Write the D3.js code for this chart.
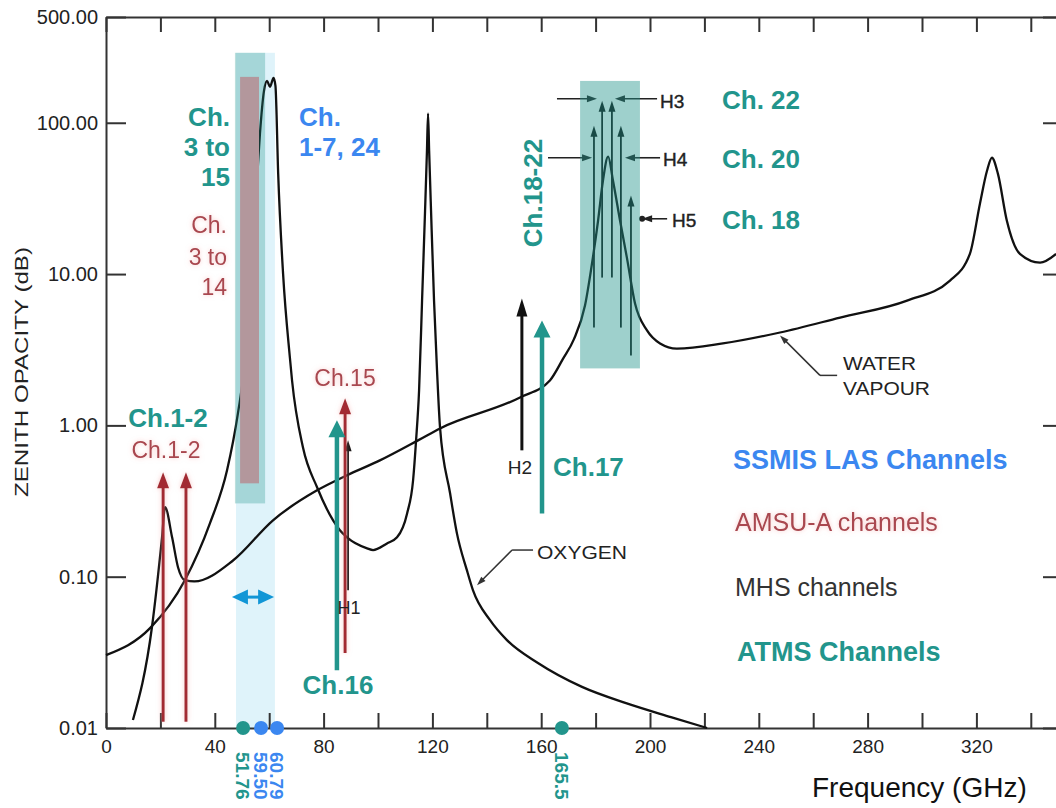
<!DOCTYPE html>
<html>
<head>
<meta charset="utf-8">
<script src="https://cdn.jsdelivr.net/npm/d3@7"></script>
<style>
body { margin: 0; background: #fff; }
svg { display: block; font-family: "Liberation Sans", Arial, sans-serif; }
.axis path, .axis line { stroke: #333; stroke-width: 2; }
.axis text { fill: #222; font-family: "Liberation Sans", Arial, sans-serif; }
</style>
</head>
<body>
<svg id="chart" width="1056" height="808"></svg>
<script>
"use strict";

// zenith opacity curves, frequency in GHz, opacity in dB
var oxygenGhz = [0, 16.2, 29.0, 38.2, 44.5, 48.5, 51.1, 53.7, 55.5, 56.6, 58.1, 59.2, 60.3, 61.6, 62.3, 63.3, 65.1, 67.6, 68.4, 72.4,
    77.6, 86.0, 88.6, 96.0, 98.2, 103.3, 107.0, 110.7, 112.9, 114.0, 115.1, 116.2, 117.3, 118.0, 118.4, 118.8, 119.5, 120.6, 121.7, 122.8,
    126.5, 129.0, 132.7, 134.9, 141.2, 147.4, 158.8, 175.0, 191.2, 207.7, 221.0];
var oxygenDb = [0.0303, 0.0457, 0.0948, 0.225, 0.505, 1.20, 2.69, 14.3, 41.4, 84.6, 163, 189, 173, 198, 175, 46.1, 10.07, 2.81, 1.98, 0.716,
    0.390, 0.203, 0.182, 0.154, 0.150, 0.166, 0.182, 0.262, 0.434, 0.796, 1.70, 6.68, 26.2, 65.3, 115, 65.3, 26.2, 6.68, 2.31, 0.970,
    0.356, 0.194, 0.110, 0.0815, 0.0516, 0.0381, 0.0269, 0.0187, 0.0146, 0.0118, 0.0100];

var waterGhz = [9.9, 16.9, 20.6, 21.7, 24.3, 26.5, 29.0, 32.5, 46.7, 61.4, 77.6, 88.6, 100.7, 114.7, 122.8, 152.2, 163.2, 168.0, 172.0, 176.1,
    179.0, 180.9, 182.7, 184.6, 186.4, 189.0, 191.5, 194.5, 198.9, 203.7, 209.9, 226.8, 247.8, 269.9, 294.5, 310.3, 317.6, 321.3, 323.9, 325.7,
    327.9, 331.2, 336.0, 343.4, 349.3];
var waterDb = [0.0113, 0.0465, 0.182, 0.288, 0.182, 0.115, 0.0948, 0.093, 0.128, 0.236, 0.372, 0.468, 0.587, 0.796, 0.955, 1.53, 1.98, 2.75, 3.7, 6.2,
    12.85, 22.5, 41.4, 59.7, 41.4, 22.5, 12.85, 6.38, 4.24, 3.48, 3.22, 3.48, 4.11, 5.16, 6.68, 9.06, 13.6, 29.2, 48.2, 58.7,
    46.1, 22.5, 13.6, 11.9, 13.6];

// axes
var xTickValues = d3.range(0, 341, 20);
var xTickLabels = ["0", "", "40", "", "80", "", "120", "", "160", "", "200", "", "240", "", "280", "", "320", ""];
var yTickValues = [0.01, 0.1, 1, 10, 100, 500];
var yTickLabels = ["0.01", "0.10", "1.00", "10.00", "100.00", "500.00"];

// channel arrows: position (GHz), foot and tip (dB)
var amsuGhz = [21.0, 29.4, 87.9];
var amsuFootDb = [0.011, 0.011, 0.0313];
var amsuTipDb = [0.49, 0.49, 1.51];

var atmsGhz = [84.9, 160.3];
var atmsFootDb = [0.0241, 0.262];
var atmsTipDb = [1.08, 4.93];

var mhsGhz = [89.0, 152.9, 182.4, 186.0, 179.4, 189.3, 193.0];
var mhsFootDb = [0.0815, 0.684, 9.48, 9.48, 4.43, 4.43, 2.90];
var mhsTipDb = [0.796, 6.89, 140, 140, 95.5, 95.5, 33.0];

// horizontal pointers next to H3, H4, H5
var pointerFromGhz = [165.8, 202.6, 162.5, 203.7, 206.3];
var pointerToGhz = [180.5, 187.1, 178.7, 190.8, 197.1];
var pointerDb = [144, 144, 58.7, 58.7, 23.2];

// shaded bands [GHz lo, GHz hi, dB lo, dB hi]
var ssmisBand = [47.8, 62.1, 0.01, 290];
var atmsBand = [47.4, 58.5, 0.305, 290];
var amsuBar = [49.3, 56.25, 0.414, 201];
var mhsBox = [174.3, 196.3, 2.38, 189];
var ssmisSpan = [46.3, 61.8, 0.0733];

// frequency markers on the axis
var dotGhz = [50.4, 57.0, 62.9, 167.6];
var dotLabels = ["51.76", "59.50", "60.79", "165.5"];
var dotSensor = ["atms", "ssmis", "ssmis", "atms"];

// leader lines of the curve names
var oxygenLeaderGhz = [157.0, 149.3, 136.4];
var oxygenLeaderDb = [0.150, 0.150, 0.0879];
var waterLeaderGhz = [268.8, 262.5, 247.8];
var waterLeaderDb = [2.14, 2.14, 3.93];

var TEAL = "#22958c", BLUE = "#3b87f0", RED = "#a22c33", RED_TEXT = "#a9474f", INK = "#111";
var colorOf = { atms: TEAL, ssmis: BLUE };

var svg = d3.select("#chart");
var x = d3.scaleLinear().domain([0, 350]).range([106, 1058]);
var y = d3.scaleLog().domain([0.01, 500]).range([728, 17]);

var defs = svg.append("defs");
var glow = defs.append("filter").attr("id", "redGlow")
    .attr("filterUnits", "userSpaceOnUse")
    .attr("x", 0).attr("y", 0).attr("width", 1056).attr("height", 808);
glow.append("feGaussianBlur").attr("in", "SourceAlpha").attr("stdDeviation", 2.5).attr("result", "blur");
glow.append("feFlood").attr("flood-color", "#f29a9a").attr("flood-opacity", 0.55).attr("result", "col");
glow.append("feComposite").attr("in", "col").attr("in2", "blur").attr("operator", "in").attr("result", "halo");
var merge = glow.append("feMerge");
merge.append("feMergeNode").attr("in", "halo");
merge.append("feMergeNode").attr("in", "SourceGraphic");

function bandRect(g, band, fill, opacity) {
    g.append("rect")
        .attr("x", x(band[0]))
        .attr("y", y(band[3]))
        .attr("width", x(band[1]) - x(band[0]))
        .attr("height", y(band[2]) - y(band[3]))
        .attr("fill", fill)
        .attr("fill-opacity", opacity);
};

function drawArrow(g, x1, y1, x2, y2, color, lw, hw, hl) {
    var dx = x2 - x1, dy = y2 - y1;
    var len = Math.sqrt(dx * dx + dy * dy);
    var ux = dx / len, uy = dy / len;
    var bx = x2 - ux * hl, by = y2 - uy * hl;
    g.append("line")
        .attr("x1", x1).attr("y1", y1)
        .attr("x2", bx + ux * 2).attr("y2", by + uy * 2)
        .attr("stroke", color)
        .attr("stroke-width", lw);
    g.append("path")
        .attr("d", "M" + x2 + "," + y2 +
            "L" + (bx - uy * hw / 2) + "," + (by + ux * hw / 2) +
            "L" + (bx + uy * hw / 2) + "," + (by - ux * hw / 2) + "Z")
        .attr("fill", color);
};

function label(g, txt, px, py, size, color, anchor, weight) {
    return g.append("text")
        .attr("x", px)
        .attr("y", py)
        .attr("dy", "0.35em")
        .attr("font-size", size)
        .attr("font-weight", weight || "normal")
        .attr("text-anchor", anchor || "start")
        .attr("fill", color)
        .text(txt);
};

// light SSMIS band sits under everything
bandRect(svg, ssmisBand, "#dff3fa", 1);

// axes
var xAxis = d3.axisBottom(x)
    .tickValues(xTickValues)
    .tickSize(-15)
    .tickSizeOuter(0)
    .tickPadding(12)
    .tickFormat(function(d, i) { return xTickLabels[i]; });
svg.append("g").attr("class", "axis")
    .attr("transform", "translate(0,728)")
    .call(xAxis)
    .attr("font-size", 19);

svg.append("g").attr("class", "axis")
    .attr("transform", "translate(0,17)")
    .call(d3.axisTop(x).tickValues(xTickValues).tickSize(-15).tickSizeOuter(0).tickFormat(""));

var yAxis = d3.axisLeft(y)
    .tickValues(yTickValues)
    .tickSize(-20)
    .tickSizeOuter(0)
    .tickPadding(8)
    .tickFormat(function(d, i) { return yTickLabels[i]; });
svg.append("g").attr("class", "axis")
    .attr("transform", "translate(106,0)")
    .call(yAxis)
    .attr("font-size", 20);

svg.append("g").attr("class", "axis")
    .attr("transform", "translate(1057,0)")
    .call(d3.axisRight(y).tickValues(yTickValues).tickSize(-14).tickSizeOuter(0).tickFormat(""));

// curves
var curve = d3.line()
    .curve(d3.curveMonotoneX)
    .x(function(d) { return x(d[0]); })
    .y(function(d) { return y(d[1]); });

svg.append("path")
    .datum(d3.zip(oxygenGhz, oxygenDb))
    .attr("d", curve)
    .attr("fill", "none")
    .attr("stroke", INK)
    .attr("stroke-width", 2.3);

svg.append("path")
    .datum(d3.zip(waterGhz, waterDb))
    .attr("d", curve)
    .attr("fill", "none")
    .attr("stroke", INK)
    .attr("stroke-width", 2.3);

// leaders for the curve names
var leader = d3.line()
    .x(function(d) { return x(d[0]); })
    .y(function(d) { return y(d[1]); });
[[oxygenLeaderGhz, oxygenLeaderDb], [waterLeaderGhz, waterLeaderDb]].forEach(function(l) {
    var pts = d3.zip(l[0], l[1]);
    svg.append("path")
        .datum(pts.slice(0, 2))
        .attr("d", leader)
        .attr("fill", "none")
        .attr("stroke", "#333")
        .attr("stroke-width", 1.5);
    var a = pts[1], b = pts[2];
    drawArrow(svg, x(a[0]), y(a[1]), x(b[0]), y(b[1]), "#333", 1.5, 6, 9);
});

// ATMS band and AMSU bar over the 60 GHz complex
bandRect(svg, atmsBand, TEAL, 0.3);
bandRect(svg, amsuBar, "#b3979c", 1);

// MHS arrows (thin black)
var gMhs = svg.append("g");
mhsGhz.forEach(function(f, i) {
    var thick = i == 1;
    drawArrow(gMhs, x(f), y(mhsFootDb[i]), x(f), y(mhsTipDb[i]), INK,
        thick ? 3 : 1.8, thick ? 11 : 7, thick ? 18 : 11);
});
pointerFromGhz.forEach(function(f, i) {
    drawArrow(gMhs, x(f), y(pointerDb[i]), x(pointerToGhz[i]), y(pointerDb[i]), "#222", 1.6, 7, 10);
});
gMhs.append("circle")
    .attr("cx", x(pointerToGhz[4]))
    .attr("cy", y(pointerDb[4]))
    .attr("r", 3)
    .attr("fill", "#222");

// AMSU-A arrows
var gAmsu = svg.append("g").attr("filter", "url(#redGlow)");
amsuGhz.forEach(function(f, i) {
    drawArrow(gAmsu, x(f), y(amsuFootDb[i]), x(f), y(amsuTipDb[i]), RED, 3, 12, 16);
});

// ATMS arrows
atmsGhz.forEach(function(f, i) {
    drawArrow(svg, x(f), y(atmsFootDb[i]), x(f), y(atmsTipDb[i]), TEAL, 4.5, 17, 17);
});

// MHS 183 GHz box
bandRect(svg, mhsBox, TEAL, 0.44);

// SSMIS span arrow
var sy = y(ssmisSpan[2]);
var smid = (x(ssmisSpan[0]) + x(ssmisSpan[1])) / 2;
drawArrow(svg, smid, sy, x(ssmisSpan[0]), sy, "#1196d6", 3, 15, 16);
drawArrow(svg, smid, sy, x(ssmisSpan[1]), sy, "#1196d6", 3, 15, 16);

// frequency dots on the axis
svg.selectAll(".fdot")
    .data(dotGhz)
    .enter().append("circle")
    .attr("class", "fdot")
    .attr("cx", function(d) { return x(d); })
    .attr("cy", 728)
    .attr("r", 7)
    .attr("fill", function(d, i) { return colorOf[dotSensor[i]]; });

svg.selectAll(".flabel")
    .data(dotGhz)
    .enter().append("text")
    .attr("class", "flabel")
    .attr("transform", function(d) { return "translate(" + x(d) + ",752) rotate(90)"; })
    .attr("dy", "0.35em")
    .attr("font-size", 19)
    .attr("font-weight", "bold")
    .attr("fill", function(d, i) { return colorOf[dotSensor[i]]; })
    .text(function(d, i) { return dotLabels[i]; });

// labels from the original figure
label(svg, "OXYGEN", 537, 552, 19, "#222").attr("textLength", 90).attr("lengthAdjust", "spacingAndGlyphs");
label(svg, "WATER", 843, 363, 19, "#222").attr("textLength", 73).attr("lengthAdjust", "spacingAndGlyphs");
label(svg, "VAPOUR", 843, 388, 19, "#222").attr("textLength", 87).attr("lengthAdjust", "spacingAndGlyphs");
label(svg, "H1", 349, 608, 18, "#222", "middle");
label(svg, "H2", 520, 467, 19, "#222", "middle");
label(svg, "H3", 660, 101, 19, "#222").attr("stroke", "#222").attr("stroke-width", 0.4);
label(svg, "H4", 663, 159, 19, "#222").attr("stroke", "#222").attr("stroke-width", 0.4);
label(svg, "H5", 672, 220, 19, "#222").attr("stroke", "#222").attr("stroke-width", 0.4);

svg.append("text")
    .attr("transform", "translate(22,372) rotate(-90)")
    .attr("dy", "0.35em")
    .attr("text-anchor", "middle")
    .attr("font-size", 18)
    .attr("fill", "#222")
    .attr("textLength", 250)
    .attr("lengthAdjust", "spacingAndGlyphs")
    .text("ZENITH OPACITY (dB)");

svg.append("text")
    .attr("x", 812)
    .attr("y", 797)
    .attr("font-size", 28)
    .attr("fill", INK)
    .text("Frequency (GHz)");

// ATMS channel labels
label(svg, "Ch.1-2", 168, 418, 26, TEAL, "middle", "bold");
label(svg, "Ch.", 230, 117, 26, TEAL, "end", "bold");
label(svg, "3 to", 230, 147, 26, TEAL, "end", "bold");
label(svg, "15", 230, 177, 26, TEAL, "end", "bold");
label(svg, "Ch.16", 338, 685, 26, TEAL, "middle", "bold");
label(svg, "Ch.17", 553, 467, 26, TEAL, "start", "bold");
label(svg, "Ch. 22", 722, 100, 26, TEAL, "start", "bold");
label(svg, "Ch. 20", 722, 159, 26, TEAL, "start", "bold");
label(svg, "Ch. 18", 722, 220, 26, TEAL, "start", "bold");
svg.append("text")
    .attr("transform", "translate(533,193) rotate(-90)")
    .attr("dy", "0.35em")
    .attr("text-anchor", "middle")
    .attr("font-size", 26)
    .attr("font-weight", "bold")
    .attr("fill", TEAL)
    .text("Ch.18-22");

// SSMIS labels
label(svg, "Ch.", 299, 117, 26, BLUE, "start", "bold");
label(svg, "1-7, 24", 299, 147, 26, BLUE, "start", "bold");

// AMSU-A labels
var gRedText = svg.append("g").attr("filter", "url(#redGlow)");
label(gRedText, "Ch.1-2", 166, 450, 23, RED_TEXT, "middle");
label(gRedText, "Ch.", 227, 225, 23, RED_TEXT, "end");
label(gRedText, "3 to", 227, 257, 23, RED_TEXT, "end");
label(gRedText, "14", 227, 287, 23, RED_TEXT, "end");
label(gRedText, "Ch.15", 345, 378, 23, RED_TEXT, "middle");

// legend
label(svg, "SSMIS LAS Channels", 733, 460, 27, BLUE, "start", "bold");
label(gRedText, "AMSU-A channels", 735, 522, 25, RED_TEXT, "start");
label(svg, "MHS channels", 735, 587, 25, "#333", "start");
label(svg, "ATMS Channels", 737, 652, 27, TEAL, "start", "bold");
</script>
</body>
</html>
